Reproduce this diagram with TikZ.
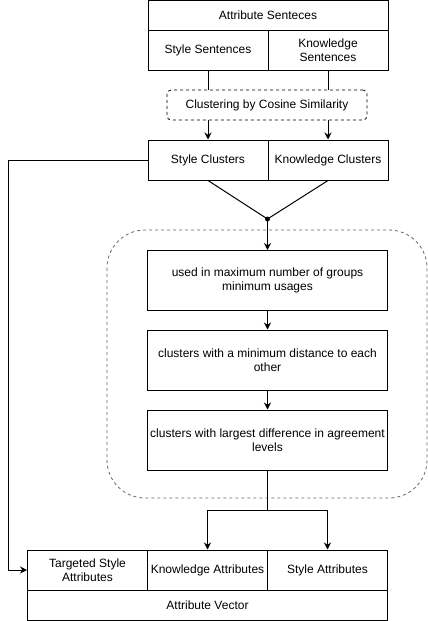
\documentclass[tikz,border=0pt]{standalone}
\usepackage{fontspec}
\setmainfont{Liberation Sans}
\usetikzlibrary{arrows.meta,calc}
\definecolor{contgray}{RGB}{102,102,102}
\begin{document}
\begin{tikzpicture}[x=1pt,y=-1pt,
  every node/.style={font=\fontsize{12}{14}\selectfont, align=center, inner sep=0pt},
  cell/.style={draw, line width=1pt, rectangle, fill=white},
  arr/.style={line width=1pt, -{Stealth[length=7pt,width=7pt]}},
  ln/.style={line width=1pt}]
\useasboundingbox (0,0) rectangle (428,621);
% top block
\node[cell, minimum width=240pt, minimum height=30pt] (T) at (268,15) {Attribute Senteces};
\node[cell, minimum width=120pt, minimum height=40pt] (SS) at (208,50) {Style Sentences};
\node[cell, minimum width=120pt, minimum height=40pt] (KS) at (328,50) {Knowledge\\Sentences};
% clusters
\node[cell, minimum width=120pt, minimum height=40pt] (SC) at (208,160) {Style Clusters};
\node[cell, minimum width=120pt, minimum height=40pt] (KC) at (328,160) {Knowledge Clusters};
\draw[arr] (SS.south) -- (SC.north);
\draw[arr] (KS.south) -- (KC.north);
\node[draw, dashed, line width=0.8pt, rounded corners=4pt, fill=white, minimum width=200pt, minimum height=30pt] (CL) at (267,105) {Clustering by Cosine Similarity};
% container
\draw[dashed, line width=0.8pt, draw=contgray, rounded corners=38pt] (107,230) rectangle (427,498);
% steps
\node[cell, minimum width=240pt, minimum height=60pt] (B1) at (267.5,280.5) {used in maximum number of groups\\minimum usages};
\node[cell, minimum width=240pt, minimum height=60pt] (B2) at (267.5,360) {clusters with a minimum distance to each\\other};
\node[cell, minimum width=240pt, minimum height=60pt] (B3) at (267.5,440) {clusters with largest difference in agreement\\levels};
\coordinate (J) at (267.5,219);
\draw[ln] (SC.south) -- (J);
\draw[ln] (KC.south) -- (J);
\fill (J) circle (2.5pt);
\draw[arr] (J) -- (B1.north);
\draw[arr] (B1.south) -- (B2.north);
\draw[arr] (B2.south) -- (B3.north);
% bottom
\node[cell, minimum width=120pt, minimum height=40pt] (TS) at (87.5,570) {Targeted Style\\Attributes};
\node[cell, minimum width=120pt, minimum height=40pt] (KA) at (207.5,570) {Knowledge Attributes};
\node[cell, minimum width=120pt, minimum height=40pt] (SA) at (327.5,570) {Style Attributes};
\node[cell, minimum width=360pt, minimum height=30pt] (AV) at (207.5,605) {Attribute Vector};
\coordinate (S) at (267.5,510);
\draw[ln] (B3.south) -- (S);
\draw[arr] (S) -| (KA.north);
\draw[arr] (S) -| (SA.north);
\draw[arr] (SC.west) -- (8,160) |- (TS.west);
\end{tikzpicture}
\end{document}
